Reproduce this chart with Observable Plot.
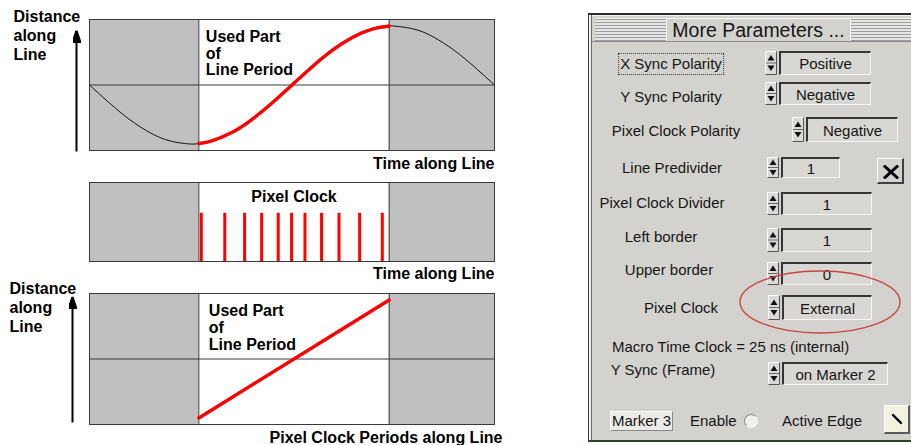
<!DOCTYPE html>
<html><head><meta charset="utf-8">
<script src="https://cdn.jsdelivr.net/npm/d3@7"></script>
<script src="https://cdn.jsdelivr.net/npm/@observablehq/plot@0.6"></script>
<style>
html,body{margin:0;padding:0;background:#fff;}
#page{position:relative;width:911px;height:445px;overflow:hidden;font-family:"Liberation Sans",Arial,sans-serif;}
#page svg.plot-svg{position:absolute;left:0;}
.dl{position:absolute;white-space:nowrap;font-size:15px;color:#151515;line-height:18px;}
</style></head><body><div id="page"></div>
<script>
// ---------------- data: diagram ----------------
const timeAlongLine     = [0, 5, 10, 15, 20, 25, 27, 30, 35, 40, 45, 50, 55, 60, 65, 70, 74, 75, 80, 85, 90, 95, 100];
const distanceAlongLine = [0, -0.31, -0.59, -0.81, -0.95, -1, -0.99, -0.95, -0.81, -0.59, -0.31, 0, 0.31, 0.59, 0.81, 0.95, 1, 1, 0.95, 0.81, 0.59, 0.31, 0];
const usedPart = [27, 74];                 // start and end of the used part of the line period
const pixelClockTicks = [27.6, 33.4, 38.3, 42.5, 46.6, 49.9, 53.2, 57.3, 61.6, 66.7, 72.3];
const pixelClockLevel = 0.61;
const linearDistance = [-0.9, 0.9];        // distance at start / end of used part (bottom panel)
const labelDistance = "Distance\nalong\nLine";
const labelUsed = "Used Part\nof\nLine Period";
const labelTime = "Time along Line";
const labelClock = "Pixel Clock";
const labelPeriods = "Pixel Clock Periods along Line";

// ---------------- data: dialog ----------------
const dialogTitle = "More Parameters ...";
const fieldLabels = ["X Sync Polarity", "Y Sync Polarity", "Pixel Clock Polarity", "Line Predivider",
  "Pixel Clock Divider", "Left border", "Upper border", "Pixel Clock", "Y Sync (Frame)"];
const fieldValues = ["Positive", "Negative", "Negative", "1", "1", "1", "0", "External", "on Marker 2"];
const macroTimeText = "Macro Time Clock = 25 ns (internal)";
const markerButtonText = "Marker 3";
const enableText = "Enable";
const activeEdgeText = "Active Edge";

// ---------------- layout (pixels) ----------------
const fieldLayout = [
  {lx: 671, ly: 64,  bx: 779, bw: 92,  by: 51,  bh: 24},
  {lx: 671, ly: 97,  bx: 779, bw: 92,  by: 82,  bh: 23},
  {lx: 676, ly: 131, bx: 806, bw: 92,  by: 117, bh: 25},
  {lx: 672, ly: 168, bx: 781, bw: 59,  by: 157, bh: 21},
  {lx: 662, ly: 203, bx: 781, bw: 91,  by: 192, bh: 23},
  {lx: 661, ly: 237, bx: 781, bw: 91,  by: 228, bh: 24},
  {lx: 669, ly: 270, bx: 781, bw: 91,  by: 262, bh: 23},
  {lx: 681, ly: 308, bx: 782, bw: 90,  by: 295, bh: 25},
  {lx: 663, ly: 370, bx: 782, bw: 106, by: 362, bh: 23}
];

const page = document.getElementById("page");
const GRAY = "#c0c0c0", LINE = "#3a3a3a", RED = "#ff0000";
const bold = {fontSize: 16, fontWeight: "bold", fill: "#000"};

function filledArrow(color) {
  const m = document.createElementNS("http://www.w3.org/2000/svg", "marker");
  m.setAttribute("viewBox", "-12 -4 12 8");
  m.setAttribute("markerWidth", 12);
  m.setAttribute("markerHeight", 8);
  m.setAttribute("markerUnits", "userSpaceOnUse");
  m.setAttribute("orient", "auto");
  m.setAttribute("refX", 0);
  m.setAttribute("refY", 0);
  const p = document.createElementNS("http://www.w3.org/2000/svg", "path");
  p.setAttribute("d", "M-12,-4L0,0L-12,4Z");
  p.setAttribute("fill", color || "#000");
  m.appendChild(p);
  return m;
}

function place(svg, top) {
  svg.classList.add("plot-svg");
  svg.style.top = top + "px";
  page.appendChild(svg);
}

const plotStyle = {background: "transparent", overflow: "visible", fontFamily: "'Liberation Sans', Arial, sans-serif"};

// ---------- panel 1: distance vs time ----------
const curve = timeAlongLine.map((t, i) => ({t, d: distanceAlongLine[i]}));
const usedCurve = curve.filter(p => p.t >= usedPart[0] && p.t <= usedPart[1]);
const shaded = [{x1: 0, x2: usedPart[0]}, {x1: usedPart[1], x2: 100}];
const y1Dom = [-1.11, 1.11];

place(Plot.plot({
  width: 510, height: 175, marginLeft: 89, marginRight: 16, marginTop: 19, marginBottom: 25,
  x: {domain: [0, 100], axis: null},
  y: {domain: y1Dom, axis: null},
  style: plotStyle,
  marks: [
    Plot.rect(shaded, {x1: "x1", x2: "x2", y1: y1Dom[0], y2: y1Dom[1], fill: GRAY}),
    Plot.ruleY([0], {stroke: LINE}),
    Plot.ruleX(usedPart, {stroke: LINE}),
    Plot.line(curve, {x: "t", y: "d", curve: "natural", stroke: "#111", strokeWidth: 1}),
    Plot.line(usedCurve, {x: "t", y: "d", curve: "natural", stroke: RED, strokeWidth: 3.5}),
    Plot.frame({stroke: LINE}),
    Plot.text([labelUsed], {x: usedPart[0], frameAnchor: "top", dx: 7, dy: 10, textAnchor: "start", lineAnchor: "top", lineHeight: 1.06, ...bold}),
    Plot.text([labelDistance], {frameAnchor: "top-left", dx: -76, dy: -11, textAnchor: "start", lineAnchor: "top", lineHeight: 1.19, ...bold}),
    Plot.text([labelTime], {frameAnchor: "bottom-right", dy: 7, textAnchor: "end", lineAnchor: "top", ...bold}),
    Plot.link([{a: y1Dom[0], b: 0.94}], {x1: 0, x2: 0, y1: "a", y2: "b", dx: -13, dy: 1, stroke: "#000", strokeWidth: 2, markerEnd: filledArrow})
  ]
}), 0);

// ---------- panel 2: pixel clock ----------
place(Plot.plot({
  width: 510, height: 108, marginLeft: 89, marginRight: 16, marginTop: 7, marginBottom: 22,
  x: {domain: [0, 100], axis: null},
  y: {domain: [0, 1], axis: null},
  style: plotStyle,
  marks: [
    Plot.rect(shaded, {x1: "x1", x2: "x2", y1: 0, y2: 1, fill: GRAY}),
    Plot.ruleX(usedPart, {stroke: LINE}),
    Plot.ruleX(pixelClockTicks, {y1: 0, y2: pixelClockLevel, stroke: RED, strokeWidth: 3}),
    Plot.frame({stroke: LINE}),
    Plot.text([labelClock], {x: (usedPart[0] + usedPart[1]) / 2, frameAnchor: "top", dy: 8, textAnchor: "middle", lineAnchor: "top", ...bold}),
    Plot.text([labelTime], {frameAnchor: "bottom-right", dy: 6, textAnchor: "end", lineAnchor: "top", ...bold})
  ]
}), 175);

// ---------- panel 3: distance vs pixel clock periods ----------
const linear = usedPart.map((t, i) => ({t, d: linearDistance[i]}));
place(Plot.plot({
  width: 510, height: 162, marginLeft: 89, marginRight: 16, marginTop: 10, marginBottom: 21,
  x: {domain: [0, 100], axis: null},
  y: {domain: [-1, 1], axis: null},
  style: plotStyle,
  marks: [
    Plot.rect(shaded, {x1: "x1", x2: "x2", y1: -1, y2: 1, fill: GRAY}),
    Plot.ruleY([0], {stroke: LINE}),
    Plot.ruleX(usedPart, {stroke: LINE}),
    Plot.line(linear, {x: "t", y: "d", stroke: RED, strokeWidth: 3.5}),
    Plot.frame({stroke: LINE}),
    Plot.text([labelUsed], {x: usedPart[0], frameAnchor: "top", dx: 10, dy: 10, textAnchor: "start", lineAnchor: "top", lineHeight: 1.08, ...bold}),
    Plot.text([labelDistance], {frameAnchor: "top-left", dx: -80, dy: -13, textAnchor: "start", lineAnchor: "top", lineHeight: 1.19, ...bold}),
    Plot.text([labelPeriods], {frameAnchor: "bottom-right", dx: 8, dy: 7, textAnchor: "end", lineAnchor: "top", ...bold}),
    Plot.link([{a: -1, b: 0.92}], {x1: 0, x2: 0, y1: "a", y2: "b", dx: -17, dy: -2, stroke: "#000", strokeWidth: 2, markerEnd: filledArrow})
  ]
}), 283);

// ---------------- dialog (screenshot) ----------------
function el(tag, style, text) {
  const e = document.createElement(tag);
  e.style.position = "absolute";
  Object.assign(e.style, style);
  if (text != null) e.textContent = text;
  page.appendChild(e);
  return e;
}
const BG = "#d4d2ce";
el("div", {left: "588px", top: "13px", width: "340px", height: "429px", background: BG,
  borderTop: "2px solid #2b2b2b", borderLeft: "1px solid #3c3c3c", borderBottom: "2px solid #264626", boxSizing: "border-box"});
el("div", {left: "589px", top: "15px", width: "2px", height: "425px", background: "#f2f2f2"});
el("div", {left: "591px", top: "15px", width: "1px", height: "425px", background: "#6a6a6a"});
el("div", {left: "592px", top: "15px", width: "330px", height: "1px", background: "#f2f2f2"});
// title bar stripes
el("div", {left: "595px", top: "18px", width: "320px", height: "23px",
  background: "repeating-linear-gradient(to bottom, #9c9c9c 0px, #9c9c9c 1px, #e6e6e6 1px, #e6e6e6 3px)",
  borderTop: "1px solid #f4f4f4", boxSizing: "border-box"});
el("div", {left: "592px", top: "41px", width: "330px", height: "1px", background: "#8a8a8a"});
el("div", {left: "666px", top: "18px", width: "185px", height: "23px", background: BG,
  borderLeft: "1px solid #fafafa", borderRight: "1px solid #fafafa", borderTop: "1px solid #fafafa", boxSizing: "border-box",
  textAlign: "center", fontSize: "19.5px", lineHeight: "22px", color: "#151515", whiteSpace: "nowrap"}, dialogTitle);

function spinner(x, y, h) {
  const w = 12, m = h / 2;
  const s = `<svg xmlns="http://www.w3.org/2000/svg" width="${w}" height="${h}" style="position:absolute;left:${x}px;top:${y}px">
    <rect x="0" y="0" width="${w}" height="${h}" fill="#dcdad6"/>
    <path d="M0.5,${h - 0.5}V0.5H${w - 0.5}" stroke="#fafafa" fill="none"/>
    <path d="M${w - 0.5},0.5V${h - 0.5}H0.5" stroke="#555" fill="none"/>
    <line x1="1" x2="${w - 1}" y1="${m}" y2="${m}" stroke="#666"/>
    <path d="M2.5,${m - 2.5}L${w / 2},${m - 8}L${w - 2.5},${m - 2.5}Z" fill="#111"/>
    <path d="M2.5,${m + 2.5}L${w / 2},${m + 8}L${w - 2.5},${m + 2.5}Z" fill="#111"/>
  </svg>`;
  page.insertAdjacentHTML("beforeend", s);
}

fieldLabels.forEach((label, i) => {
  const L = fieldLayout[i];
  const lab = el("div", {left: L.lx + "px", top: (L.ly - 9) + "px", transform: "translateX(-50%)"}, label);
  lab.className = "dl";
  if (i === 0) { lab.style.outline = "1px dotted #333"; lab.style.outlineOffset = "1px"; }
  spinner(L.bx - 14, L.by, L.bh);
  el("div", {left: L.bx + "px", top: L.by + "px", width: L.bw + "px", height: L.bh + "px", background: "#d9d7d3",
    borderTop: "2px solid #353535", borderLeft: "2px solid #353535", borderRight: "1px solid #f6f6f6", borderBottom: "1px solid #f6f6f6",
    boxSizing: "border-box", textAlign: "center", fontSize: "15px", lineHeight: (L.bh - 2) + "px", color: "#151515", whiteSpace: "nowrap"}, fieldValues[i]);
});

// close button
el("div", {left: "877px", top: "158px", width: "27px", height: "26px", background: BG,
  borderTop: "1px solid #fafafa", borderLeft: "1px solid #fafafa", borderRight: "2px solid #404040", borderBottom: "2px solid #404040", boxSizing: "border-box"});
page.insertAdjacentHTML("beforeend",
  `<svg xmlns="http://www.w3.org/2000/svg" width="16" height="14" style="position:absolute;left:883px;top:165px">
    <path d="M2,1.5L14,12.5M14,1.5L2,12.5" stroke="#000" stroke-width="3" stroke-linecap="square"/></svg>`);

// macro time text
el("div", {left: "612px", top: "338px"}, macroTimeText).className = "dl";

// bottom row
el("div", {left: "610px", top: "411px", width: "63px", height: "20px", background: "#ecebe7",
  borderTop: "1px solid #fdfdfd", borderLeft: "1px solid #fdfdfd", borderRight: "1px solid #8a8a8a", borderBottom: "1px solid #8a8a8a",
  boxSizing: "border-box", fontSize: "15px", lineHeight: "18px", textAlign: "center", color: "#151515", whiteSpace: "nowrap"}, markerButtonText);
el("div", {left: "690px", top: "412px"}, enableText).className = "dl";
el("div", {left: "744px", top: "414px", width: "14px", height: "14px", borderRadius: "50%", background: "#f2f0ea",
  borderTop: "1px solid #8a8a8a", borderLeft: "1px solid #8a8a8a", borderRight: "1px solid #f8f8f8", borderBottom: "1px solid #f8f8f8", boxSizing: "border-box"});
el("div", {left: "782px", top: "412px"}, activeEdgeText).className = "dl";
el("div", {left: "884px", top: "405px", width: "26px", height: "29px", background: "#f3f1df",
  borderTop: "1px solid #fdfdfd", borderLeft: "1px solid #fdfdfd", borderRight: "2px solid #5a5a5a", borderBottom: "2px solid #5a5a5a", boxSizing: "border-box"});
page.insertAdjacentHTML("beforeend",
  `<svg xmlns="http://www.w3.org/2000/svg" width="14" height="14" style="position:absolute;left:890px;top:412px">
    <path d="M3,3L11,11" stroke="#000" stroke-width="2.4" stroke-linecap="round"/></svg>`);

// red highlight ellipse
page.insertAdjacentHTML("beforeend",
  `<svg xmlns="http://www.w3.org/2000/svg" width="911" height="445" style="position:absolute;left:0;top:0;pointer-events:none">
    <ellipse cx="820" cy="302" rx="80" ry="31" fill="none" stroke="#c8453f" stroke-width="1.4"/></svg>`);
</script></body></html>
